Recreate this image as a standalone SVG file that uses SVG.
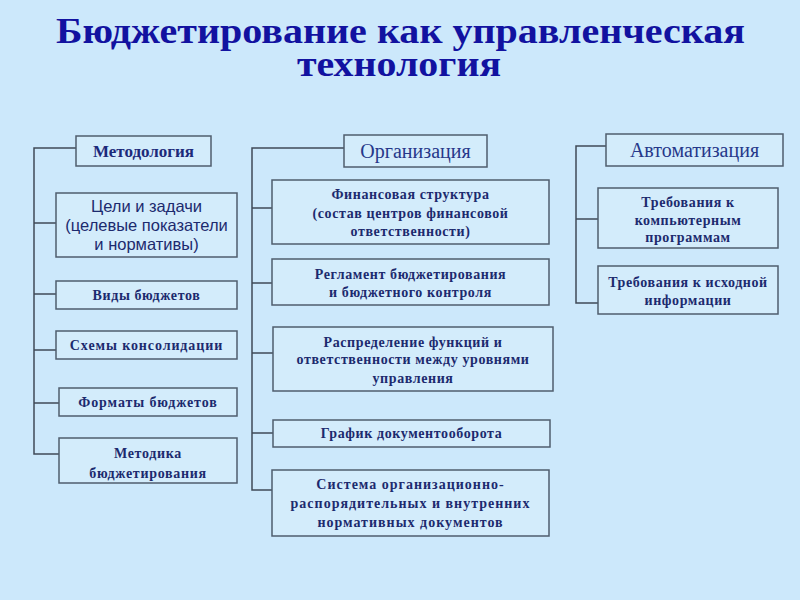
<svg xmlns="http://www.w3.org/2000/svg" width="800" height="600" viewBox="0 0 800 600">
<style>
.bg{fill:#cce8fb}
.box{fill:#d3ecfb;stroke:#4f5d6e;stroke-width:1.5}
.ln{fill:none;stroke:#3f4a58;stroke-width:1.5}
.title{font-family:"Liberation Serif","Times New Roman",serif;font-weight:bold;font-size:36px;fill:#1212a0}
.hd{font-family:"Liberation Serif","Times New Roman",serif;font-size:20px;fill:#26388a;text-anchor:middle}
.hdb{font-family:"Liberation Serif","Times New Roman",serif;font-weight:bold;font-size:17px;fill:#1c2a7a;text-anchor:middle}
.t{font-family:"Liberation Serif","Times New Roman",serif;font-weight:bold;font-size:14px;fill:#1c2a6e;text-anchor:middle;letter-spacing:0.6px}
.s{font-family:"Liberation Sans",Arial,sans-serif;font-size:16.5px;fill:#1c2a6e;text-anchor:middle}
</style>
<rect class="bg" x="0" y="0" width="800" height="600"/>
<g id="title">
<text class="title" x="56" y="43" textLength="689" lengthAdjust="spacingAndGlyphs">Бюджетирование как управленческая</text>
<text class="title" x="297" y="76" textLength="204" lengthAdjust="spacingAndGlyphs">технология</text>
</g>
<g id="connectors">
<path class="ln" d="M76 148H34V454H59 M34 223H56 M34 294H56 M34 350H56 M34 403H59"/>
<path class="ln" d="M344 148H252V490H272 M252 208H272 M252 283H272 M252 353H273 M252 433H273"/>
<path class="ln" d="M606 146H576V303H598 M576 219H598"/>
</g>
<g id="n-metod"><rect class="box" x="76" y="136" width="135" height="30"/><text class="hdb" x="143.5" y="157">Методология</text></g>
<g id="n-celi"><rect class="box" x="56" y="193" width="181" height="64"/>
<text class="s" x="146.5" y="212">Цели и задачи</text>
<text class="s" x="146.5" y="231">(целевые показатели</text>
<text class="s" x="146.5" y="250">и нормативы)</text></g>
<g id="n-vidy"><rect class="box" x="56" y="281" width="181" height="28"/><text class="t" x="146.5" y="300">Виды бюджетов</text></g>
<g id="n-shemy"><rect class="box" x="56" y="331" width="181" height="28"/><text class="t" x="146.5" y="350" style="letter-spacing:0.9px">Схемы консолидации</text></g>
<g id="n-format"><rect class="box" x="59" y="388" width="178" height="28"/><text class="t" x="148" y="407" style="letter-spacing:0.9px">Форматы бюджетов</text></g>
<g id="n-metodika"><rect class="box" x="59" y="438" width="178" height="45"/>
<text class="t" x="148" y="458" style="letter-spacing:0.7px">Методика</text>
<text class="t" x="148" y="478" style="letter-spacing:0.7px">бюджетирования</text></g>

<g id="n-org"><rect class="box" x="344" y="135" width="143" height="32"/><text class="hd" x="415.5" y="158">Организация</text></g>
<g id="n-fin"><rect class="box" x="272" y="180" width="277" height="64"/>
<text class="t" x="410.5" y="199">Финансовая структура</text>
<text class="t" x="410.5" y="218">(состав центров  финансовой</text>
<text class="t" x="410.5" y="236">ответственности)</text></g>
<g id="n-regl"><rect class="box" x="272" y="259" width="277" height="46"/>
<text class="t" x="410.5" y="279">Регламент бюджетирования</text>
<text class="t" x="410.5" y="297">и бюджетного контроля</text></g>
<g id="n-raspr"><rect class="box" x="273" y="327" width="280" height="64"/>
<text class="t" x="413" y="347">Распределение функций и</text>
<text class="t" x="413" y="364">ответственности между уровнями</text>
<text class="t" x="413" y="383">управления</text></g>
<g id="n-grafik"><rect class="box" x="273" y="420" width="277" height="27"/><text class="t" x="411.5" y="438">График документооборота</text></g>
<g id="n-sist"><rect class="box" x="272" y="470" width="277" height="66"/>
<text class="t" x="410.5" y="489" style="letter-spacing:1px">Система организационно-</text>
<text class="t" x="410.5" y="508" style="letter-spacing:1px">распорядительных и внутренних</text>
<text class="t" x="410.5" y="527" style="letter-spacing:1px">нормативных документов</text></g>

<g id="n-avto"><rect class="box" x="606" y="134" width="177" height="32"/><text class="hd" x="694.5" y="157">Автоматизация</text></g>
<g id="n-treb1"><rect class="box" x="598" y="188" width="180" height="60"/>
<text class="t" x="688" y="207">Требования к</text>
<text class="t" x="688" y="225">компьютерным</text>
<text class="t" x="688" y="242">программам</text></g>
<g id="n-treb2"><rect class="box" x="598" y="266" width="180" height="48"/>
<text class="t" x="688" y="287">Требования к исходной</text>
<text class="t" x="688" y="305">информации</text></g>
</svg>
